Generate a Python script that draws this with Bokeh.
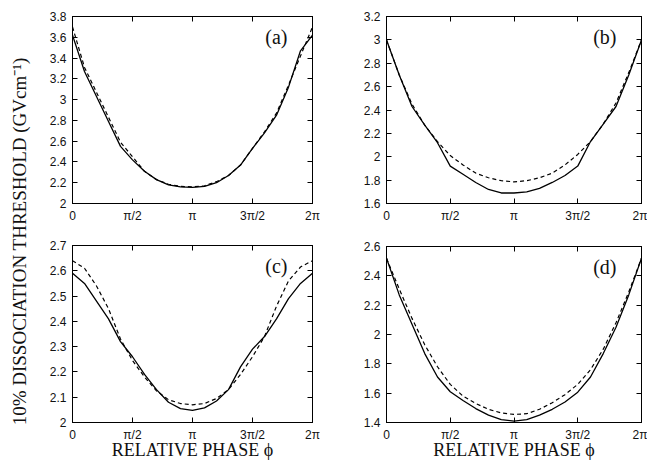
import math
from bokeh.plotting import figure
from bokeh.layouts import row, column
from bokeh.models import Range1d, LinearAxis, FixedTicker, Label
from bokeh.embed import file_html
from bokeh.resources import INLINE

# relative phase, in units of pi
phase = [0.0, 0.1, 0.2, 0.3, 0.4, 0.5, 0.6, 0.7, 0.8, 0.9, 1.0,
         1.1, 1.2, 1.3, 1.4, 1.5, 1.6, 1.7, 1.8, 1.9, 2.0]

x_ticks = [0.0, 0.5, 1.0, 1.5, 2.0]
x_tick_labels = ["0", "π/2", "π", "3π/2", "2π"]

# panel (a)
a_solid = [3.62, 3.27, 3.03, 2.79, 2.55, 2.42, 2.31, 2.23, 2.18, 2.16, 2.155,
           2.165, 2.20, 2.27, 2.37, 2.53, 2.68, 2.85, 3.12, 3.47, 3.62]
a_dashed = [3.70, 3.31, 3.07, 2.83, 2.59, 2.45, 2.31, 2.23, 2.185, 2.165, 2.16,
            2.17, 2.21, 2.27, 2.37, 2.53, 2.69, 2.87, 3.14, 3.42, 3.70]
a_yticks = [2.0, 2.2, 2.4, 2.6, 2.8, 3.0, 3.2, 3.4, 3.6, 3.8]

# panel (b)
b_solid = [3.0, 2.70, 2.43, 2.27, 2.12, 1.92, 1.85, 1.78, 1.72, 1.69, 1.69,
           1.70, 1.73, 1.78, 1.84, 1.92, 2.13, 2.28, 2.43, 2.70, 3.0]
b_dashed = [3.0, 2.70, 2.45, 2.27, 2.13, 2.01, 1.93, 1.86, 1.82, 1.795, 1.785,
            1.795, 1.82, 1.86, 1.93, 2.02, 2.13, 2.28, 2.46, 2.72, 3.0]
b_yticks = [1.6, 1.8, 2.0, 2.2, 2.4, 2.6, 2.8, 3.0, 3.2]

# panel (c)
c_solid = [2.59, 2.55, 2.48, 2.41, 2.32, 2.26, 2.19, 2.13, 2.08, 2.055, 2.048,
           2.058, 2.085, 2.13, 2.22, 2.29, 2.34, 2.41, 2.49, 2.55, 2.59]
c_dashed = [2.64, 2.61, 2.54, 2.45, 2.33, 2.245, 2.18, 2.125, 2.09, 2.075, 2.07,
            2.075, 2.095, 2.13, 2.19, 2.26, 2.34, 2.46, 2.56, 2.615, 2.64]
c_yticks = [2.0, 2.1, 2.2, 2.3, 2.4, 2.5, 2.6, 2.7]

# panel (d)
d_solid = [2.52, 2.27, 2.07, 1.87, 1.71, 1.61, 1.55, 1.495, 1.45, 1.42, 1.41,
           1.42, 1.45, 1.49, 1.54, 1.607, 1.71, 1.87, 2.05, 2.27, 2.52]
d_dashed = [2.52, 2.31, 2.11, 1.93, 1.78, 1.66, 1.58, 1.53, 1.49, 1.465, 1.455,
            1.46, 1.49, 1.535, 1.59, 1.66, 1.76, 1.90, 2.08, 2.29, 2.52]
d_yticks = [1.4, 1.6, 1.8, 2.0, 2.2, 2.4, 2.6]

TICK_FONT = "Liberation Sans"
SERIF = "Liberation Serif"
X_TITLE = "RELATIVE PHASE ϕ"
Y_TITLE = "10% DISSOCIATION  THRESHOLD (GVcm⁻¹)"


def style_axis(ax, ticks, labels, show_labels=True):
    ax.ticker = FixedTicker(ticks=ticks)
    ax.minor_tick_line_color = None
    ax.major_tick_in = 5
    ax.major_tick_out = 0
    ax.major_tick_line_color = "black"
    ax.axis_line_color = "black"
    ax.major_label_text_font = TICK_FONT
    ax.major_label_text_color = "#111111"
    if show_labels:
        ax.major_label_text_font_size = "12px"
        ax.major_label_overrides = {t: l for t, l in zip(ticks, labels)}
    else:
        ax.major_label_text_font_size = "0px"
        ax.major_label_standoff = 0
        ax.major_label_overrides = {t: "" for t in ticks}


def panel(solid, dashed, yticks, tag, width, height, mb, xlabel=None):
    ymin, ymax = yticks[0], yticks[-1]
    p = figure(width=width, height=height,
               x_range=Range1d(0, 2), y_range=Range1d(ymin, ymax),
               output_backend="svg", toolbar_location=None,
               min_border_left=mb[0], min_border_right=mb[1],
               min_border_top=mb[2], min_border_bottom=mb[3])
    p.xgrid.visible = False
    p.ygrid.visible = False
    p.outline_line_color = "black"
    p.outline_line_alpha = 1.0
    p.background_fill_color = "white"
    p.border_fill_color = "white"

    bottom = p.xaxis[0]
    left = p.yaxis[0]
    ylabels = [f"{t:g}" for t in yticks]
    style_axis(bottom, x_ticks, x_tick_labels)
    bottom.major_label_standoff = 5
    style_axis(left, yticks, ylabels)
    left.major_label_standoff = 6

    if xlabel:
        bottom.axis_label = xlabel
        bottom.axis_label_text_font = SERIF
        bottom.axis_label_text_font_style = "normal"
        bottom.axis_label_text_font_size = "18px"
        bottom.axis_label_text_color = "#111111"
        bottom.axis_label_standoff = -5

    top = LinearAxis()
    style_axis(top, x_ticks, x_tick_labels, show_labels=False)
    p.add_layout(top, "above")
    right = LinearAxis()
    style_axis(right, yticks, ylabels, show_labels=False)
    p.add_layout(right, "right")

    p.line(phase, solid, line_color="black", line_width=1.3)
    p.line(phase, dashed, line_color="black", line_width=1.2, line_dash="4 3")

    fw = width - mb[0] - mb[1]
    fh = height - mb[2] - mb[3]
    p.add_layout(Label(x=2 - 25.0 / fw * 2, y=ymax - 20.0 / fh * (ymax - ymin),
                       text=tag, text_font=SERIF, text_font_size="20px",
                       text_align="right", text_baseline="middle",
                       text_color="#111111"))
    return p


fa = panel(a_solid, a_dashed, a_yticks, "(a)", 284, 230, (36, 8, 16, 27))
fc = panel(c_solid, c_dashed, c_yticks, "(c)", 284, 232, (36, 8, 15, 40), X_TITLE)
fb = panel(b_solid, b_dashed, b_yticks, "(b)", 327, 230, (66, 6, 16, 27))
fd = panel(d_solid, d_dashed, d_yticks, "(d)", 327, 232, (66, 6, 16, 40), X_TITLE)

# strip holding the shared y title, drawn as a (tickless) axis label
lf = figure(width=36, height=462, x_range=Range1d(0, 1), y_range=Range1d(0, 1),
            output_backend="svg", toolbar_location=None,
            x_axis_location=None, y_axis_location="left",
            min_border_left=29, min_border_right=0,
            min_border_top=15, min_border_bottom=0)
lf.xgrid.visible = False
lf.ygrid.visible = False
lf.outline_line_color = None
lf.background_fill_color = "white"
lf.border_fill_color = "white"
ya = lf.yaxis[0]
ya.ticker = FixedTicker(ticks=[])
ya.axis_line_color = None
ya.major_tick_line_color = None
ya.minor_tick_line_color = None
ya.major_tick_in = 0
ya.major_tick_out = 0
ya.major_label_text_font_size = "0px"
ya.major_label_standoff = 0
ya.axis_label = Y_TITLE
ya.axis_label_standoff = 0
ya.axis_label_text_font = SERIF
ya.axis_label_text_font_style = "normal"
ya.axis_label_text_font_size = "19px"
ya.axis_label_text_color = "#111111"

layout = row(lf, column(fa, fc), column(fb, fd))

open("out.html", "w").write(file_html(layout, INLINE))
